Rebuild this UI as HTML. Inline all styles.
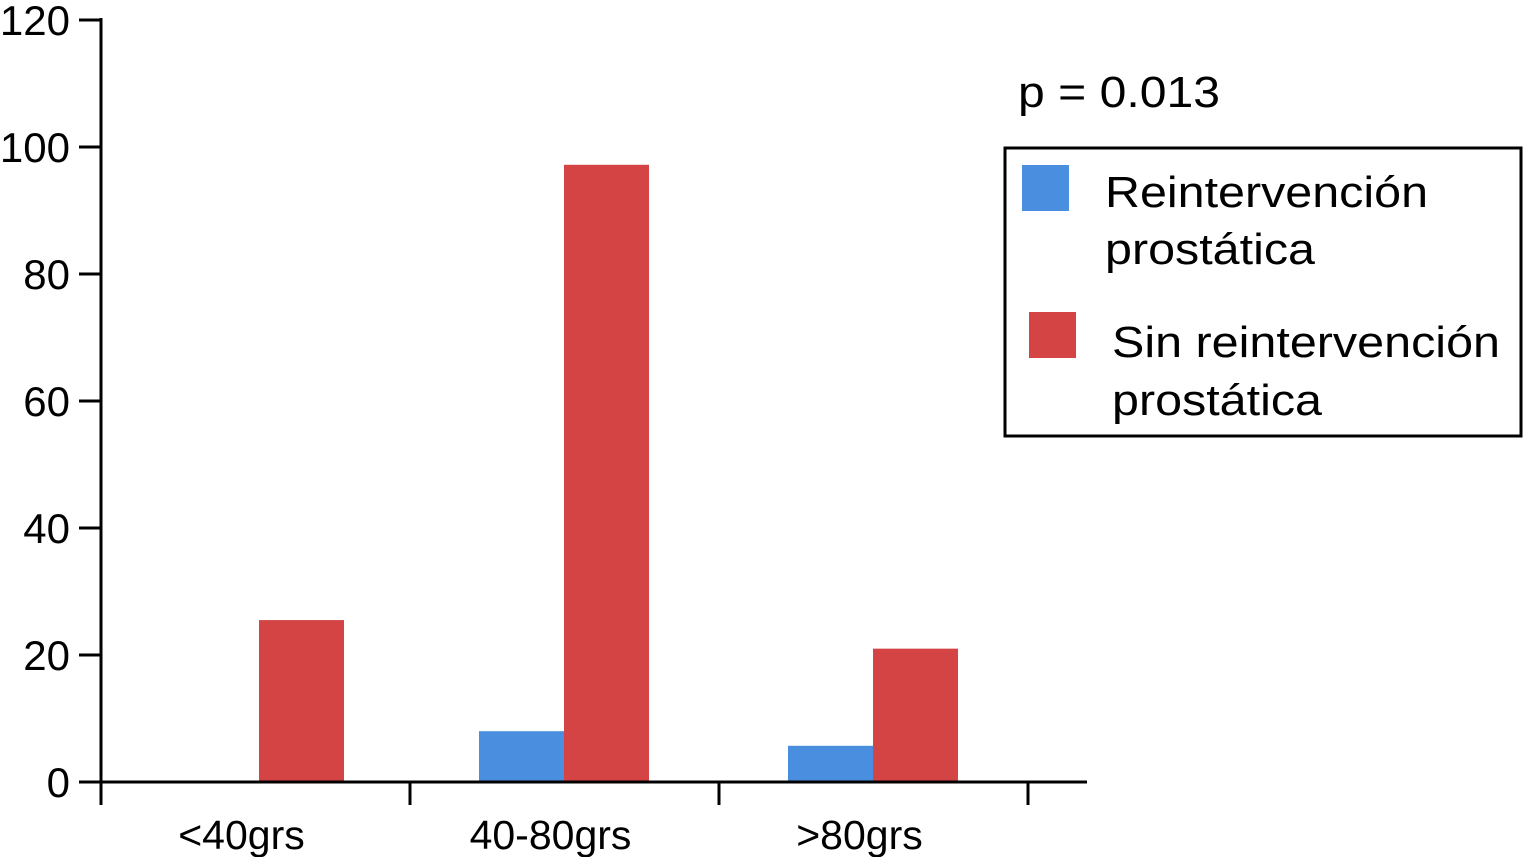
<!DOCTYPE html>
<html><head><meta charset="utf-8"><style>
body{margin:0;background:#fff;}
svg text{font-family:"Liberation Sans",Arial,sans-serif;fill:#000;}
</style></head><body>
<svg id="chart" width="1523" height="857" viewBox="0 0 1523 857" xmlns="http://www.w3.org/2000/svg">
<g id="axes"></g>
<g id="bars"></g>
<text x="1018" y="107" font-size="44" textLength="202" lengthAdjust="spacingAndGlyphs">p = 0.013</text>
<g>
<rect x="1005" y="148" width="516" height="288" fill="none" stroke="#000" stroke-width="3"/>
<rect x="1022" y="165" width="47" height="46" fill="#4a8fdf"/>
<text font-size="44"><tspan x="1105" y="207" textLength="323" lengthAdjust="spacingAndGlyphs">Reintervención</tspan><tspan x="1105" y="264" textLength="210" lengthAdjust="spacingAndGlyphs">prostática</tspan></text>
<rect x="1029" y="312" width="47" height="46" fill="#d44444"/>
<text font-size="44"><tspan x="1112" y="357" textLength="388" lengthAdjust="spacingAndGlyphs">Sin reintervención</tspan><tspan x="1112" y="415" textLength="210" lengthAdjust="spacingAndGlyphs">prostática</tspan></text>
</g>
</svg>
<script>
const categories=["<40grs","40-80grs",">80grs"];
const reintervencion=[0,8,5.7];
const sinReintervencion=[25.5,97.2,21];
const yTicks=[0,20,40,60,80,100,120];
const NS="http://www.w3.org/2000/svg";
const x0=101,groupW=309,y0=782,yTop=20,yMax=120,barW=85;
function y(v){return y0-(v/yMax)*(y0-yTop);}
function mk(tag,attrs,parent){const e=document.createElementNS(NS,tag);for(const k in attrs)e.setAttribute(k,attrs[k]);parent.appendChild(e);return e;}
const ax=document.getElementById('axes'),bars=document.getElementById('bars');
let l=mk('line',{x1:x0,y1:yTop-2,x2:x0,y2:805,stroke:'#000','stroke-width':3},ax);


l=mk('line',{x1:x0,y1:y0,x2:1087,y2:y0,stroke:'#000','stroke-width':3},ax);


yTicks.forEach(t=>{
 const tk=mk('line',{x1:79,y1:y(t),x2:x0,y2:y(t),stroke:'#000','stroke-width':3},ax);
 
 
 const tx=mk('text',{x:70,y:y(t)+15,'font-size':42,'text-anchor':'end'},ax);
 tx.textContent=t;
 
 
});
for(let i=0;i<=categories.length;i++){
 const tk=mk('line',{x1:x0+i*groupW,y1:y0,x2:x0+i*groupW,y2:805,stroke:'#000','stroke-width':3},ax);
 
 
}
categories.forEach((c,i)=>{
 const gx=x0+i*groupW;
 const tx=mk('text',{x:gx+groupW/2-14,y:849,'font-size':41,'text-anchor':'middle'},ax);
 tx.textContent=c;
 
 
 const bx=gx+(i===0?73:69);
 if(reintervencion[i]>0){
  const b=mk('rect',{x:bx,y:y(reintervencion[i]),width:barW,height:y0-y(reintervencion[i]),fill:'#4a8fdf'},bars);
  
  
 }
 const r=mk('rect',{x:bx+barW,y:y(sinReintervencion[i]),width:barW,height:y0-y(sinReintervencion[i]),fill:'#d44444'},bars);
 
 
});
document.getElementById('chart').appendChild(ax);
</script>
</body></html>
